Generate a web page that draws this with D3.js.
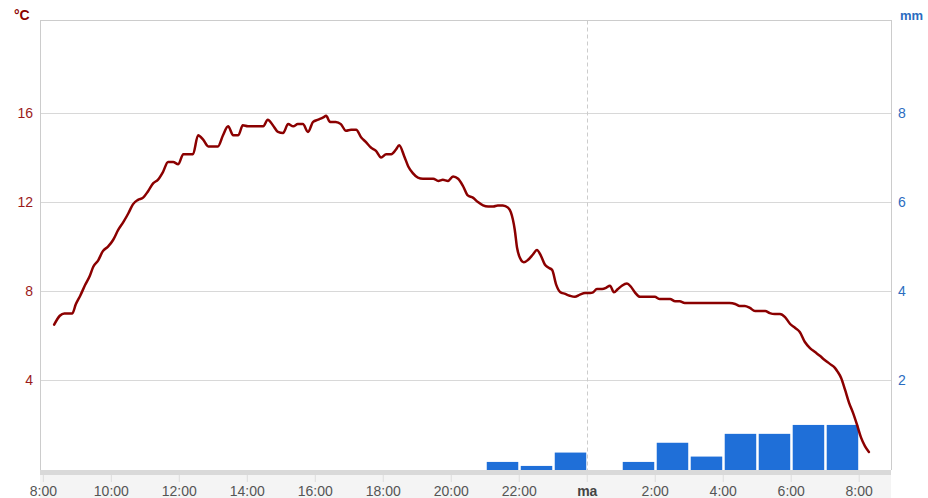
<!DOCTYPE html>
<html>
<head>
<meta charset="utf-8">
<script src="https://cdn.jsdelivr.net/npm/d3@7"></script>
<style>
  html, body { margin: 0; padding: 0; background: #fff; }
  svg { display: block; font-family: "Liberation Sans", Arial, sans-serif; }
</style>
</head>
<body>
<svg id="chart" width="928" height="498"></svg>
<script>
// ---- DATA ----
const tempTimes = ["8:20","8:30","8:38","8:52","8:58","9:06","9:15","9:23","9:29","9:38","9:46","9:55",
  "10:04","10:13","10:22","10:31","10:39","10:48","10:57","11:06","11:15","11:23","11:32","11:41","11:50","11:59",
  "12:08","12:16","12:25","12:34","12:43","12:52","13:00","13:09","13:18","13:27","13:36","13:45","13:53",
  "14:02","14:11","14:20","14:29","14:37","14:46","14:55","15:04","15:13","15:22","15:30","15:39","15:48","15:57",
  "16:06","16:15","16:20","16:27","16:37","16:46","16:55","17:04","17:13","17:22","17:30","17:39","17:48","17:57",
  "18:06","18:15","18:23","18:29","18:38","18:45","18:53","19:02","19:11","19:20","19:29","19:38","19:46","19:55",
  "20:04","20:13","20:22","20:30","20:39","20:48","20:57","21:06","21:15","21:23","21:32","21:41","21:46","21:53","21:57",
  "22:02","22:09","22:16","22:25","22:32","22:39","22:46","22:53","22:59","23:06","23:13","23:22","23:30","23:39","23:48","23:57",
  "0:06","0:11","0:18","0:27","0:34","0:41","0:48","0:55","1:02","1:11","1:18","1:25","1:34","1:43","1:51",
  "2:00","2:09","2:18","2:27","2:36","2:44","2:53","3:11","3:30","3:50","4:12","4:22","4:30","4:39","4:48","4:57",
  "5:06","5:15","5:23","5:32","5:41","5:50","5:59","6:08","6:16","6:25","6:34","6:43","6:52",
  "7:00","7:09","7:18","7:23","7:29","7:36","7:43","7:50","7:57","8:04","8:11","8:18"];
const tempValues = [6.5,6.9,7.0,7.0,7.4,7.8,8.3,8.7,9.1,9.4,9.8,10.0,
  10.3,10.75,11.1,11.5,11.9,12.1,12.2,12.5,12.85,13.0,13.35,13.8,13.8,13.7,
  14.15,14.15,14.15,15.0,14.8,14.5,14.5,14.5,15.0,15.4,15.0,15.0,15.45,
  15.4,15.4,15.4,15.4,15.7,15.45,15.15,15.1,15.5,15.4,15.5,15.5,15.15,15.6,
  15.7,15.8,15.87,15.6,15.6,15.5,15.2,15.25,15.25,14.9,14.7,14.45,14.3,14.0,
  14.15,14.15,14.35,14.55,14.05,13.6,13.3,13.1,13.05,13.05,13.05,12.95,13.0,12.95,
  13.15,13.05,12.7,12.3,12.2,12.0,11.85,11.8,11.8,11.85,11.85,11.75,11.55,10.75,9.95,
  9.5,9.3,9.4,9.65,9.85,9.6,9.2,9.05,8.95,8.3,7.97,7.88,7.8,7.75,7.85,7.92,
  7.92,7.95,8.1,8.1,8.15,8.25,7.95,8.1,8.25,8.35,8.2,7.95,7.75,7.75,7.75,
  7.75,7.65,7.65,7.65,7.55,7.55,7.47,7.47,7.47,7.47,7.47,7.43,7.34,7.34,7.25,7.11,
  7.11,7.11,7.02,6.98,6.98,6.84,6.53,6.35,6.17,5.72,5.45,5.27,5.09,
  4.91,4.74,4.56,4.38,4.11,3.57,2.99,2.54,2.01,1.44,1.05,0.79];

const rainHours = ["21:00","22:00","23:00","0:00","1:00","2:00","3:00","4:00","5:00","6:00","7:00"];
const rainValues = [0.17,0.08,0.38,0,0.17,0.6,0.29,0.8,0.8,1.0,1.0];

const xTickTimes = ["8:00","10:00","12:00","14:00","16:00","18:00","20:00","22:00","0:00","2:00","4:00","6:00","8:00"];
const xTickLabels = ["8:00","10:00","12:00","14:00","16:00","18:00","20:00","22:00","ma","2:00","4:00","6:00","8:00"];
const leftTicks = [4, 8, 12, 16];
const rightTicks = [2, 4, 6, 8];

// ---- helpers ----
const base = new Date(2024, 0, 1, 0, 0, 0);
function parseSeq(arr) {
  // clock strings in order, rolling over to the next day after midnight
  let prev = -1, dayOff = 0;
  return arr.map(s => {
    const [h, m] = s.split(":").map(Number);
    let mins = h * 60 + m;
    if (mins + dayOff < prev) dayOff += 1440;
    mins += dayOff;
    prev = mins;
    return new Date(base.getTime() + mins * 60000);
  });
}
const tempDates = parseSeq(tempTimes);
const rainDates = parseSeq(["20:00"].concat(rainHours)).slice(1);
const tickDates = parseSeq(xTickTimes);

const L = 40, R = 891, T = 20.5, B = 469.5;
const x = d3.scaleTime()
  .domain([new Date(base.getTime() + (8 * 60 - 5) * 60000), new Date(base.getTime() + (32 * 60 + 57) * 60000)])
  .range([L, R]);
const y = d3.scaleLinear().domain([0, 20.15]).range([B, T]);
const yR = d3.scaleLinear().domain([0, 10.075]).range([B, T]);

const svg = d3.select("#chart");

// axis background
svg.append("rect").attr("x", L).attr("y", 475).attr("width", R - L).attr("height", 23).attr("fill", "#f4f4f4");

// gridlines
svg.append("g").selectAll("line").data(leftTicks).join("line")
  .attr("x1", L).attr("x2", R)
  .attr("y1", d => Math.round(y(d)) + 0.5).attr("y2", d => Math.round(y(d)) + 0.5)
  .attr("stroke", "#d8d8d8").attr("stroke-width", 1);

// midnight dashed line
const mid = tickDates[8];
svg.append("line")
  .attr("x1", Math.round(x(mid)) + 0.5).attr("x2", Math.round(x(mid)) + 0.5)
  .attr("y1", T).attr("y2", 470)
  .attr("stroke", "#cccccc").attr("stroke-dasharray", "4,3");

// rain bars
svg.append("g").selectAll("rect").data(rainValues.map((v, i) => ({v, t: rainDates[i]}))).join("rect")
  .filter(d => d.v > 0)
  .attr("x", d => x(d.t) + 2)
  .attr("width", d => x(new Date(d.t.getTime() + 3600000)) - x(d.t) - 2.5)
  .attr("y", d => yR(d.v))
  .attr("height", d => 470 - yR(d.v))
  .attr("fill", "#1f6fd8");

// grey band at bottom of plot
svg.append("rect").attr("x", L).attr("y", 470).attr("width", R - L).attr("height", 5).attr("fill", "#d9d9d9");

// plot borders
svg.append("line").attr("x1", L + 0.5).attr("x2", L + 0.5).attr("y1", T).attr("y2", 470).attr("stroke", "#cccccc");
svg.append("line").attr("x1", R + 0.5).attr("x2", R + 0.5).attr("y1", T).attr("y2", 470).attr("stroke", "#cccccc");
svg.append("line").attr("x1", L).attr("x2", R + 1).attr("y1", T).attr("y2", T).attr("stroke", "#cccccc");

// temperature line
const line = d3.line().x((d, i) => x(tempDates[i])).y(d => y(d)).curve(d3.curveMonotoneX);
svg.append("path").datum(tempValues).attr("d", line)
  .attr("fill", "none").attr("stroke", "#8b0000").attr("stroke-width", 2.5)
  .attr("stroke-linejoin", "round").attr("stroke-linecap", "round");

// left axis
const gl = svg.append("g").attr("transform", `translate(${L},0)`)
  .call(d3.axisLeft(y).tickValues(leftTicks).tickSize(0).tickPadding(7).tickFormat(d3.format("d")));
gl.select(".domain").remove();
gl.selectAll("text").attr("fill", "#9b1a1a").style("font-size", "14px").style("font-family", '"Liberation Sans", Arial, sans-serif');

// right axis
const gr = svg.append("g").attr("transform", `translate(${R},0)`)
  .call(d3.axisRight(yR).tickValues(rightTicks).tickSize(0).tickPadding(7).tickFormat(d3.format("d")));
gr.select(".domain").remove();
gr.selectAll("text").attr("fill", "#2b6cbf").style("font-size", "14px").style("font-family", '"Liberation Sans", Arial, sans-serif');

// bottom axis
const gb = svg.append("g").attr("transform", `translate(0,475)`)
  .call(d3.axisBottom(x).tickValues(tickDates).tickSize(7).tickPadding(4).tickFormat((d, i) => xTickLabels[i]));
gb.select(".domain").remove();
gb.selectAll(".tick line").attr("stroke", "#dddddd");
gb.selectAll("text").attr("fill", "#555555").style("font-size", "14px").style("font-family", '"Liberation Sans", Arial, sans-serif')
  .filter((d, i) => xTickLabels[i] === "ma").attr("fill", "#444444").style("font-weight", "bold");

// unit labels
svg.append("text").attr("x", 14).attr("y", 20).text("°C")
  .attr("fill", "#8b0000").style("font-size", "14px").style("font-weight", "bold");
svg.append("text").attr("x", 900).attr("y", 20).text("mm")
  .attr("fill", "#2b6cbf").style("font-size", "13px").style("font-weight", "bold");
</script>
</body>
</html>
